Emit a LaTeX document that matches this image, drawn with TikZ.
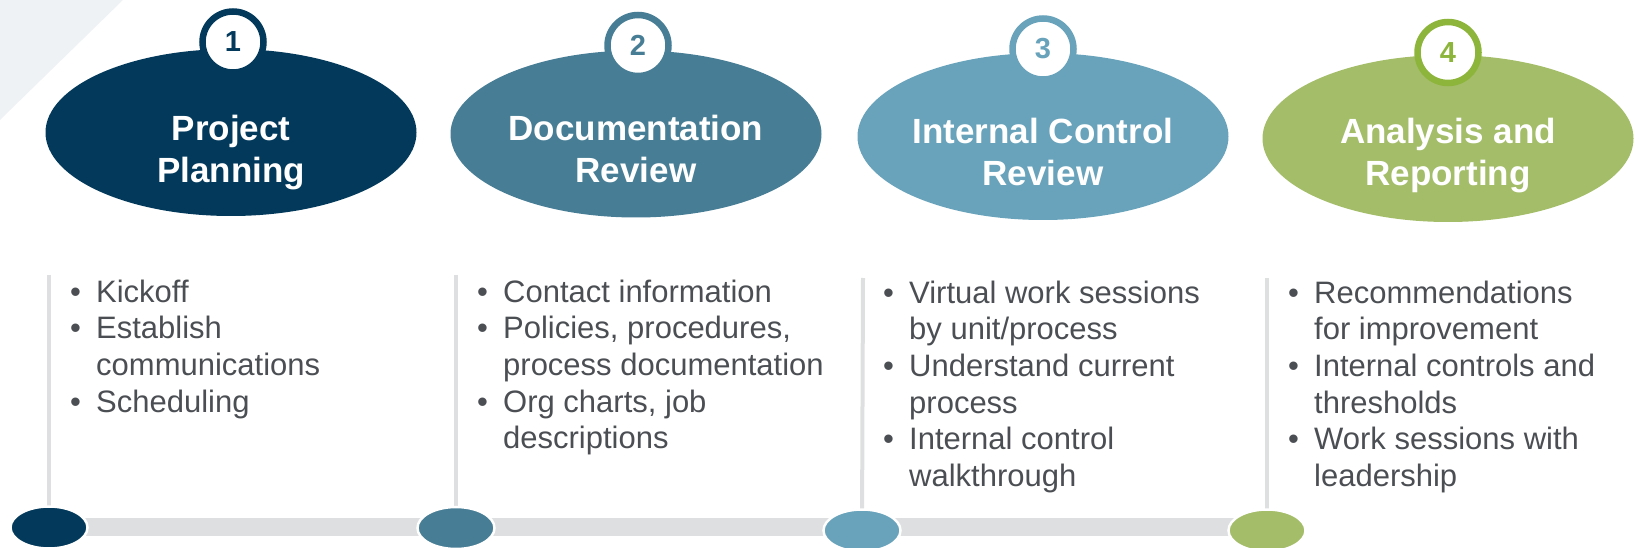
\documentclass[tikz,border=0pt]{standalone}
\usepackage{fontspec}
\setmainfont{Liberation Sans}
\usetikzlibrary{shapes.geometric}

\definecolor{phaseA}{HTML}{033A5C}
\definecolor{phaseB}{HTML}{477E95}
\definecolor{phaseC}{HTML}{68A3BB}
\definecolor{phaseD}{HTML}{A4BD69}
\definecolor{ringD}{HTML}{8DB53C}
\definecolor{bodygray}{HTML}{4B4E53}
\definecolor{railgray}{HTML}{DEDFE1}
\definecolor{cornergray}{HTML}{EFF2F5}

\tikzset{
  phase/.style={ellipse, fill=#1, draw=none, inner sep=0pt, minimum width=371pt, minimum height=167pt},
  badge/.style={circle, draw=#1, line width=6.5pt, fill=white, inner sep=0pt, minimum size=61pt,
    text=#1, font=\fontsize{29}{30}\selectfont\bfseries},
  headline/.style={anchor=base, text=white, inner sep=0pt, font=\fontsize{35}{40}\selectfont\bfseries},
  dot/.style={ellipse, fill=#1, draw=white, line width=2.5pt, inner sep=0pt, minimum width=77pt, minimum height=42pt},
  item/.style={anchor=base west, inner sep=0pt, text=bodygray, font=\fontsize{31}{36}\selectfont},
  rail/.style={draw=railgray, line width=4pt},
}

% bullet line and continuation line of a list entry
\newcommand{\bul}[1]{\makebox[26pt][l]{•}#1}
\newcommand{\cnt}[1]{\hspace*{26pt}#1}

\begin{document}
\begin{tikzpicture}[x=1pt, y=-1pt]
\useasboundingbox (0,0) rectangle (1639,548);

% pale corner wedge
\fill[cornergray] (0,0) -- (123,0) -- (0,120) -- cycle;

% timeline bar and stems
\coordinate (s1) at (49,527.5);
\coordinate (s2) at (456,528);
\coordinate (s3) at (862,530.5);
\coordinate (s4) at (1267,530.5);
\coordinate (v1) at (49,275);
\coordinate (v2) at (456,275);
\coordinate (v3) at (863,278);
\coordinate (v4) at (1267,278);
\fill[railgray] (49,518) rectangle (1267,536);
\draw[rail] (v1) -- (s1);
\draw[rail] (v2) -- (s2);
\draw[rail] (v3) -- (s3);
\draw[rail] (v4) -- (s4);

\node[dot=phaseA] (d1) at (s1) {};
\node[dot=phaseB] (d2) at (s2) {};
\node[dot=phaseC] (d3) at (s3) {};
\node[dot=phaseD] (d4) at (s4) {};

% phase heads
\node[phase=phaseA] (h1) at (231,132.5) {};
\node[phase=phaseB] (h2) at (636,134) {};
\node[phase=phaseC] (h3) at (1043,136.5) {};
\node[phase=phaseD] (h4) at (1448,138.5) {};

\node[badge=phaseA] (n1) at (233,42) {1};
\node[badge=phaseB] (n2) at (638,45.5) {2};
\node[badge=phaseC] (n3) at (1043,49) {3};
\node[badge=ringD] (n4) at (1448,52.5) {4};

\node[headline] (t1a) at (231,140.5) {Project};
\node[headline] (t1b) at (231,182.5) {Planning};
\node[headline] (t2a) at (636,140.5) {Documentation};
\node[headline] (t2b) at (636,182.5) {Review};
\node[headline] (t3a) at (1043,143.5) {Internal Control};
\node[headline] (t3b) at (1043,185.5) {Review};
\node[headline] (t4a) at (1448,143.5) {Analysis and};
\node[headline] (t4b) at (1448,185.5) {Reporting};

% phase task lists
\node[item] (a1) at (70,302)   {\bul{Kickoff}};
\node[item] (a2) at (70,338.7) {\bul{Establish}};
\node[item] (a3) at (70,375.4) {\cnt{communications}};
\node[item] (a4) at (70,412.1) {\bul{Scheduling}};

\node[item] (b1) at (477,302)   {\bul{Contact information}};
\node[item] (b2) at (477,338.7) {\bul{Policies, procedures,}};
\node[item] (b3) at (477,375.4) {\cnt{process documentation}};
\node[item] (b4) at (477,412.1) {\bul{Org charts, job}};
\node[item] (b5) at (477,448.8) {\cnt{descriptions}};

\node[item] (c1) at (883,303)   {\bul{Virtual work sessions}};
\node[item] (c2) at (883,339.7) {\cnt{by unit/process}};
\node[item] (c3) at (883,376.4) {\bul{Understand current}};
\node[item] (c4) at (883,413.1) {\cnt{process}};
\node[item] (c5) at (883,449.8) {\bul{Internal control}};
\node[item] (c6) at (883,486.5) {\cnt{walkthrough}};

\node[item] (e1) at (1288,303)   {\bul{Recommendations}};
\node[item] (e2) at (1288,339.7) {\cnt{for improvement}};
\node[item] (e3) at (1288,376.4) {\bul{Internal controls and}};
\node[item] (e4) at (1288,413.1) {\cnt{thresholds}};
\node[item] (e5) at (1288,449.8) {\bul{Work sessions with}};
\node[item] (e6) at (1288,486.5) {\cnt{leadership}};
\end{tikzpicture}
\end{document}
